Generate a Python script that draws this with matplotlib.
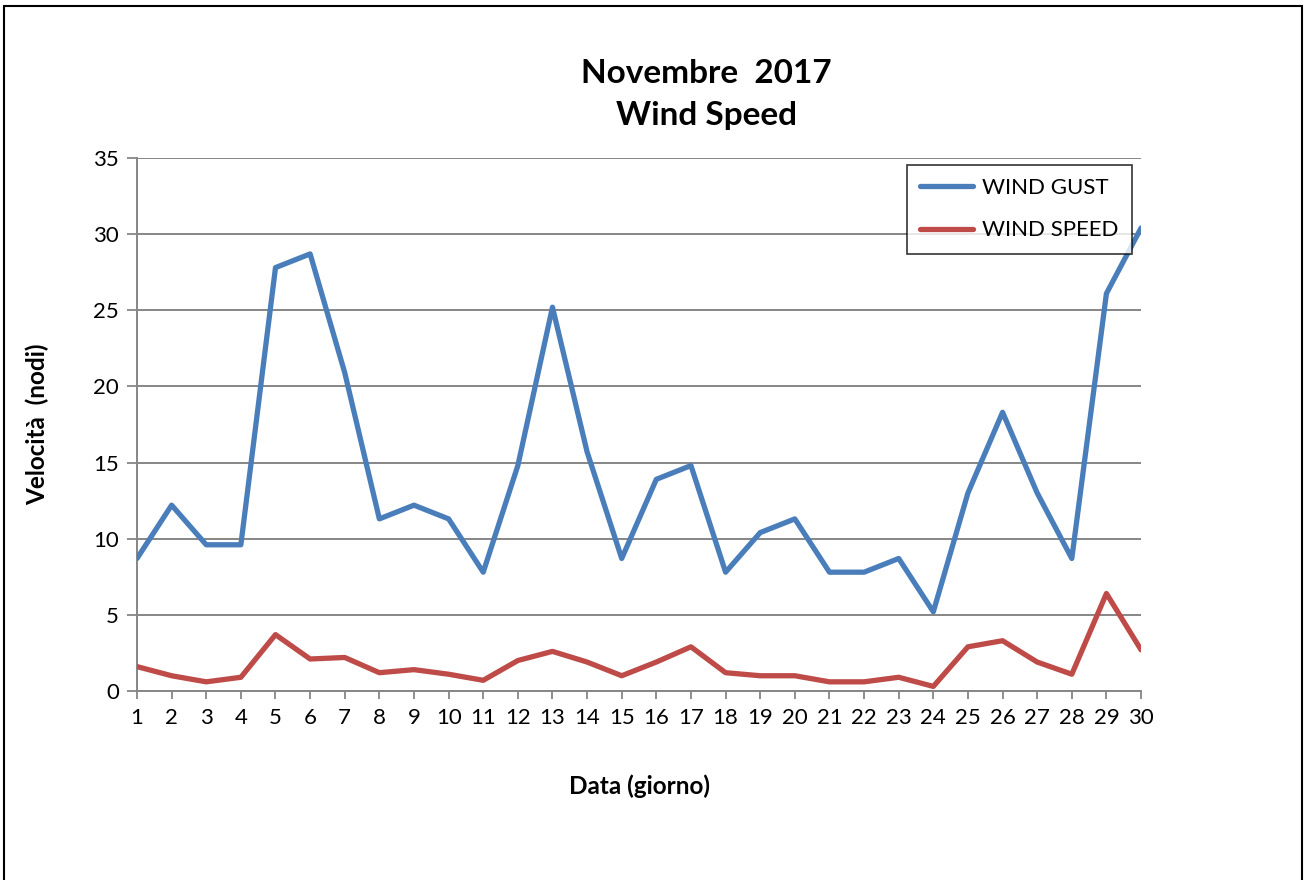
import matplotlib.pyplot as plt
from matplotlib.patches import Rectangle

plt.rcParams['font.family'] = ['Lato', 'DejaVu Sans']

# Daily data, November 2017
days = list(range(1, 31))
wind_gust = [8.7, 12.2, 9.6, 9.6, 27.8, 28.7, 20.9, 11.3, 12.2, 11.3,
             7.8, 14.8, 25.2, 15.7, 8.7, 13.9, 14.8, 7.8, 10.4, 11.3,
             7.8, 7.8, 8.7, 5.2, 13.0, 18.3, 13.0, 8.7, 26.1, 30.4]
wind_speed = [1.6, 1.0, 0.6, 0.9, 3.7, 2.1, 2.2, 1.2, 1.4, 1.1,
              0.7, 2.0, 2.6, 1.9, 1.0, 1.9, 2.9, 1.2, 1.0, 1.0,
              0.6, 0.6, 0.9, 0.3, 2.9, 3.3, 1.9, 1.1, 6.4, 2.7]
y_ticks = [0, 5, 10, 15, 20, 25, 30, 35]

fig = plt.figure(figsize=(13.06, 8.8), dpi=100)
ax = fig.add_axes([0.1049, 0.2148, 0.7688, 0.6057])

grey = '#868686'
ax.plot(days, wind_gust, color='#4a7ebb', lw=3.8, label='WIND GUST',
        solid_joinstyle='round', solid_capstyle='round', zorder=3)
ax.plot(days, wind_speed, color='#be4b48', lw=3.8, label='WIND SPEED',
        solid_joinstyle='round', solid_capstyle='round', zorder=3)

ax.set_xlim(1, 30)
ax.set_ylim(0, 35)
ax.set_xticks(days)
ax.set_yticks(y_ticks)
ax.tick_params(axis='both', labelsize=16, color=grey, width=1.3, direction='out')
ax.tick_params(axis='x', length=6, pad=6)
ax.tick_params(axis='y', length=7, pad=6)
ax.yaxis.grid(True, color=grey, lw=1.4)
ax.set_axisbelow(True)
for s in ['top', 'right']:
    ax.spines[s].set_visible(False)
for s in ['left', 'bottom']:
    ax.spines[s].set_color(grey)
    ax.spines[s].set_linewidth(1.4)

ax.set_ylabel('Velocità  (nodi)', fontsize=17.5, fontweight='bold', labelpad=32)
ax.set_xlabel('Data (giorno)', fontsize=17.5, fontweight='bold', labelpad=34)

fig.text(0.541, 0.893, 'Novembre  2017\nWind Speed', ha='center', va='center',
         fontsize=24, fontweight='bold', linespacing=1.55)

leg = ax.legend(loc='upper right', bbox_to_anchor=(0.991, 0.987), fontsize=16,
                frameon=True, fancybox=False, edgecolor='black', handlelength=2.4,
                borderaxespad=0, borderpad=0.6, labelspacing=1.0, handletextpad=0.4)
leg.get_frame().set_linewidth(1.2)

fig.patches.append(Rectangle((0.003, -0.01), 0.994, 1.003, transform=fig.transFigure,
                             fill=False, edgecolor='black', lw=1.5))

fig.savefig('out.png', dpi=100)
